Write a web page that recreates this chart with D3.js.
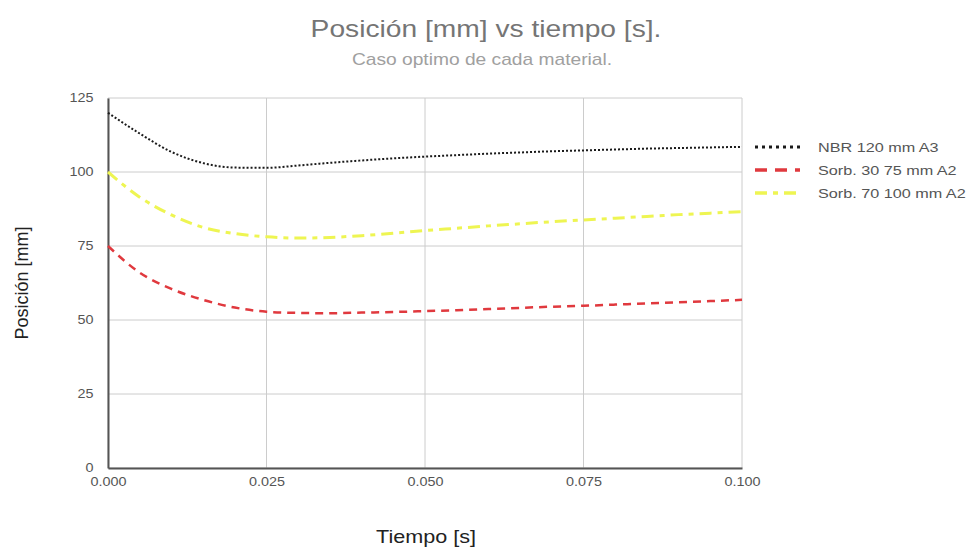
<!DOCTYPE html>
<html lang="es">
<head>
  <meta charset="UTF-8">
  <title>Posición vs tiempo</title>
  <script src="https://d3js.org/d3.v7.min.js"></script>
  <style>
    body { margin: 0; background: #fff; font-family: "Liberation Sans", Arial, sans-serif; }
    .grid line { stroke: #cccccc; }
    .tick text { fill: #555; font-size: 12px; }
  </style>
</head>
<body>
<svg id="chart" width="972" height="552"></svg>
<script>
const times = [0, 0.005, 0.01, 0.015, 0.02, 0.025, 0.03, 0.035, 0.04, 0.045, 0.05,
               0.055, 0.06, 0.065, 0.07, 0.075, 0.08, 0.085, 0.09, 0.095, 0.1];
const nbr120 = [120, 113, 106.8, 103, 101.5, 101.4, 102.2, 103.1, 103.9, 104.6, 105.2,
                105.7, 106.2, 106.6, 107, 107.3, 107.6, 107.9, 108.1, 108.3, 108.5];
const sorb3075 = [75, 66, 60.5, 56.8, 54.2, 52.8, 52.4, 52.3, 52.5, 52.7, 53,
                  53.3, 53.7, 54.1, 54.5, 54.8, 55.2, 55.6, 56, 56.4, 56.8];
const sorb70100 = [100, 91.5, 85.5, 81.3, 79.2, 78.1, 77.7, 77.9, 78.5, 79.3, 80.2,
                   81, 81.8, 82.5, 83.2, 83.8, 84.4, 85, 85.6, 86.1, 86.6];
const seriesNames = ["NBR 120 mm A3", "Sorb. 30 75 mm A2", "Sorb. 70 100 mm A2"];
const xTicks = [0, 0.025, 0.05, 0.075, 0.1];
const yTicks = [0, 25, 50, 75, 100, 125];

const series = [
  { name: seriesNames[0], values: nbr120, color: "#1a1a1a", dash: "2,2", width: 2, legDash: "3,4" },
  { name: seriesNames[1], values: sorb3075, color: "#e0393e", dash: "8,6", width: 2.5, legDash: "12,8" },
  { name: seriesNames[2], values: sorb70100, color: "#eef552", dash: "12,6,5,6", width: 3, legDash: "12,6,5,6" }
];

const svg = d3.select("#chart");
const m = { left: 108, right: 742, top: 98, bottom: 468 };
const sx = 1.2; // horizontal stretch of text seen in the reference

const x = d3.scaleLinear().domain([0, 0.1]).range([m.left, m.right]);
const y = d3.scaleLinear().domain([0, 125]).range([m.bottom, m.top]);

// gridlines
svg.append("g").attr("class", "grid")
  .selectAll("line").data(yTicks).join("line")
  .attr("x1", m.left).attr("x2", m.right)
  .attr("y1", d => y(d)).attr("y2", d => y(d));
svg.append("g").attr("class", "grid")
  .selectAll("line").data(xTicks).join("line")
  .attr("x1", d => x(d)).attr("x2", d => x(d))
  .attr("y1", m.top).attr("y2", m.bottom);

// axes
const xAxis = svg.append("g").attr("transform", `translate(0,${m.bottom})`)
  .call(d3.axisBottom(x).tickValues(xTicks).tickFormat(d3.format(".3f")).tickSize(0).tickPadding(9));
const yAxis = svg.append("g").attr("transform", `translate(${m.left},0)`)
  .call(d3.axisLeft(y).tickValues(yTicks).tickSize(0).tickPadding(10));
xAxis.select(".domain").attr("stroke", "#555").attr("stroke-width", 2);
yAxis.select(".domain").attr("stroke", "#555").attr("stroke-width", 2);
svg.selectAll(".tick text")
  .attr("font-family", "Liberation Sans, Arial, sans-serif");
xAxis.selectAll(".tick text").attr("transform", `scale(${sx},1)`)
  .attr("x", function() { return 0; });
yAxis.selectAll(".tick text").attr("transform", `translate(-5,0) scale(${sx},1)`)
  .attr("x", -8);

// lines
const line = d3.line().curve(d3.curveMonotoneX)
  .x((d, i) => x(times[i])).y(d => y(d));

series.forEach(s => {
  svg.append("path")
    .attr("d", line(s.values))
    .attr("fill", "none")
    .attr("stroke", s.color)
    .attr("stroke-width", s.width)
    .attr("stroke-dasharray", s.dash);
});

function label(px, py, size, color, txt, anchor) {
  return svg.append("text")
    .attr("transform", `translate(${px},${py}) scale(${sx},1)`)
    .attr("text-anchor", anchor || "middle")
    .attr("font-size", size).attr("fill", color).text(txt);
}

// legend
series.forEach((s, i) => {
  const ly = 147 + i * 23;
  svg.append("line").attr("x1", 755).attr("x2", 800).attr("y1", ly).attr("y2", ly)
    .attr("stroke", s.color)
    .attr("stroke-width", i === 0 ? 3 : 3.5)
    .attr("stroke-dasharray", s.legDash);
  label(818, ly + 5, 13.5, "#555", s.name, "start");
});

// titles
label(486, 37, 23.5, "#757575", "Posición [mm] vs tiempo [s].");
label(482, 65, 16, "#a0a0a0", "Caso optimo de cada material.");
label(426, 543, 18, "#222", "Tiempo [s]");
svg.append("text").attr("transform", "translate(28,283) rotate(-90)")
  .attr("text-anchor", "middle").attr("font-size", 18).attr("fill", "#222").text("Posición [mm]");
</script>
</body>
</html>
